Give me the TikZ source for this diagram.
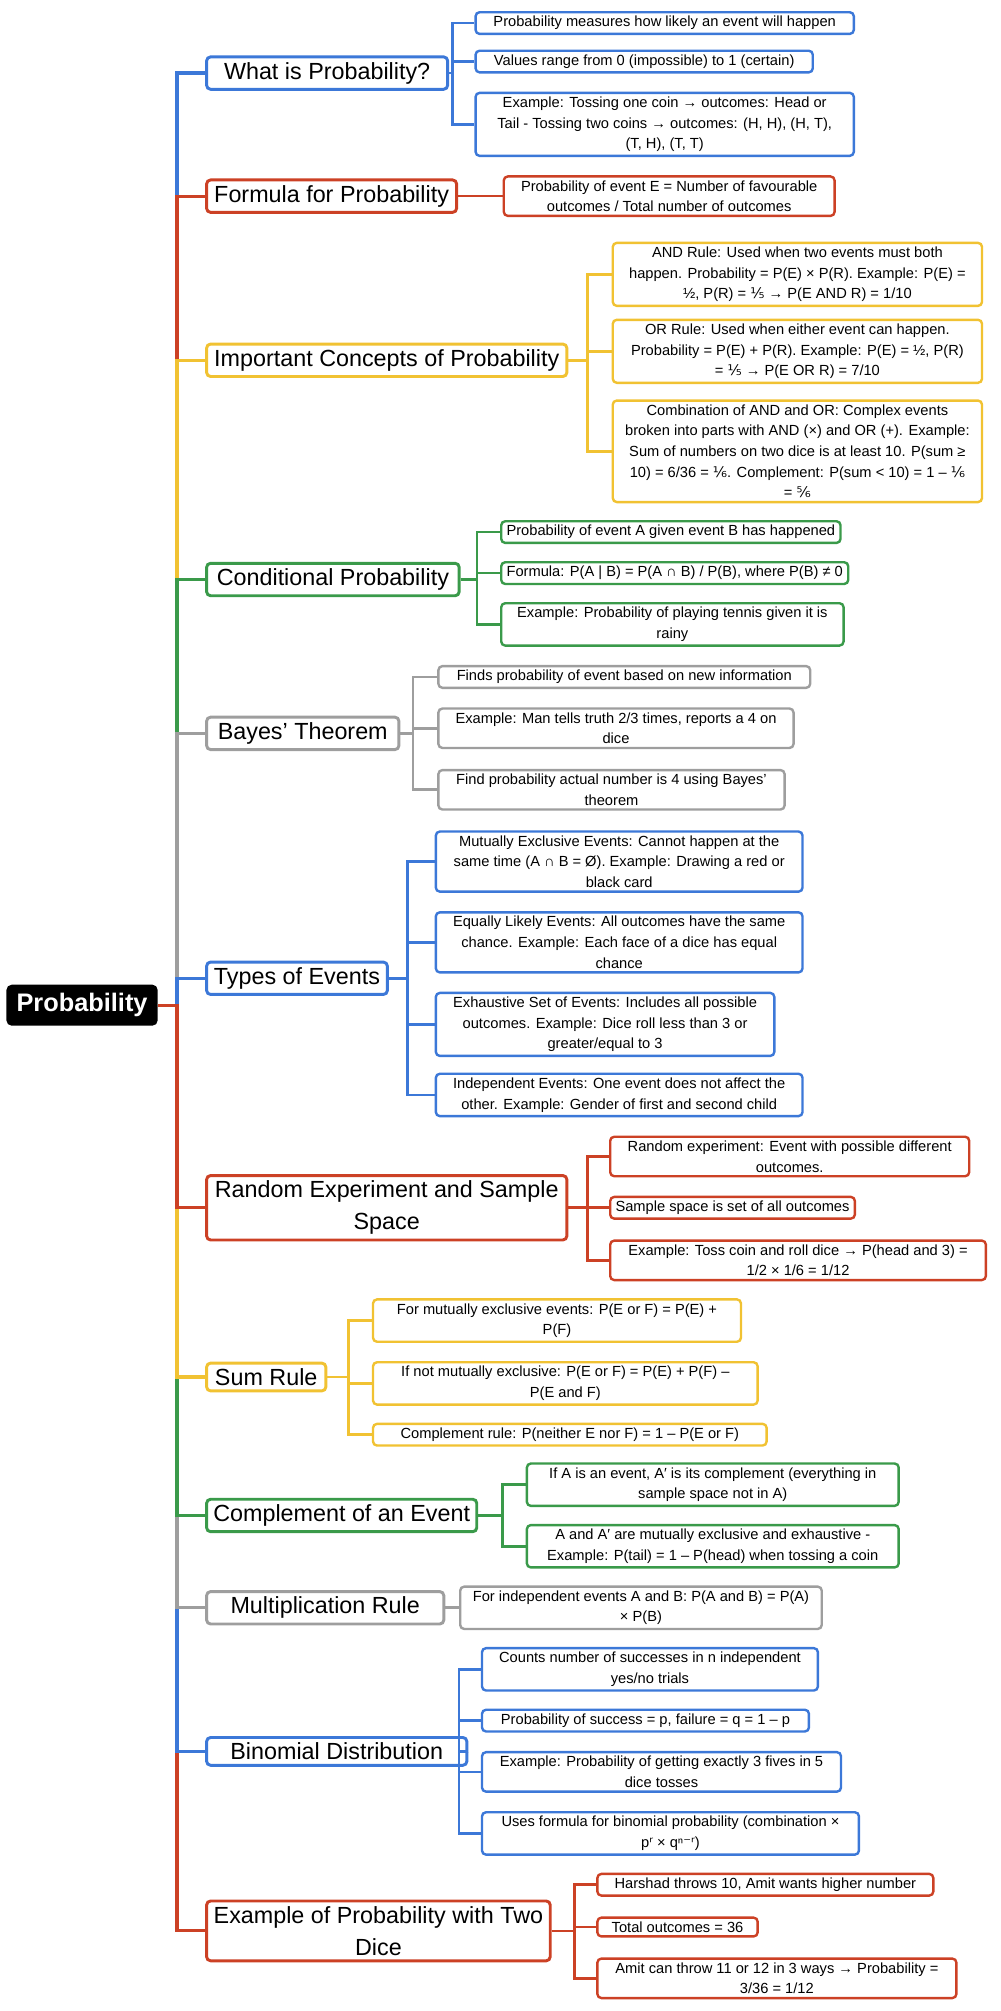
\documentclass[tikz,border=0pt]{standalone}
\usepackage{fontspec}
\setmainfont{Liberation Sans}
\newfontfamily\dvfam{DejaVu Sans}
\newcommand\dvf[1]{{\dvfam #1}}
\definecolor{cb}{HTML}{3C78D8}
\definecolor{cr}{HTML}{CC4125}
\definecolor{cy}{HTML}{F1C232}
\definecolor{cg}{HTML}{3A9A4A}
\definecolor{ca}{HTML}{9E9E9E}
\begin{document}
\begin{tikzpicture}[x=0.9615pt,y=-0.9615pt,
  lf/.style={draw=#1,line width=1.8pt,rounded corners=3pt,fill=white,align=center,
    font=\fontsize{11}{15.5}\selectfont,inner xsep=4pt,inner ysep=3pt,anchor=west},
  br/.style={draw=#1,line width=2.2pt,rounded corners=3pt,fill=white,align=center,
    font=\fontsize{17.5}{24}\selectfont,inner xsep=5pt,inner ysep=4pt,anchor=west},
  cn/.style={draw=#1,line width=2.4pt},
  lc/.style={draw=#1,line width=2pt}]
\useasboundingbox (0,0) rectangle (780,1568.5);
\node[fill=black,text=white,rounded corners=4pt,font=\fontsize{19}{22}\selectfont\bfseries,minimum width=118*0.9615pt,minimum height=32*0.9615pt] (root) at (64,784) {Probability};
% branches
\node[br=cb,minimum width=188*0.9615pt] (b1) at (160,57) {What is Probability?};
\node[br=cr,minimum width=195*0.9615pt] (b2) at (160,153) {Formula for Probability};
\node[br=cy,minimum width=281*0.9615pt] (b3) at (160,281) {Important Concepts of Probability};
\node[br=cg,minimum width=197*0.9615pt] (b4) at (160,452) {Conditional Probability};
\node[br=ca,minimum width=150*0.9615pt] (b5) at (160,572) {Bayes' Theorem};
\node[br=cb,minimum width=141*0.9615pt] (b6) at (160,763) {Types of Events};
\node[br=cr,minimum width=281*0.9615pt] (b7) at (160,942) {Random Experiment and Sample\\Space};
\node[br=cy,minimum width=93*0.9615pt] (b8) at (160,1074) {Sum Rule};
\node[br=cg,minimum width=206*0.9615pt] (b9) at (160,1182) {Complement of an Event};
\node[br=ca,minimum width=185*0.9615pt] (b10) at (160,1254) {Multiplication Rule};
\node[br=cb,minimum width=203*0.9615pt] (b11) at (160,1366) {Binomial Distribution};
\node[br=cr,minimum width=268*0.9615pt] (b12) at (160,1506) {Example of Probability with Two\\Dice};
% trunk (outermost first)
\coordinate (T) at (138,0);
\foreach \b/\c in {b1/cb,b12/cr,b2/cr,b11/cb,b3/cy,b10/ca,b4/cg,b9/cg,b5/ca,b8/cy,b6/cb,b7/cr}
  \draw[cn=\c] (root.east) -- (root.east -| T) |- (\b.west);
% leaves
\node[lf=cb,minimum width=295*0.9615pt] (l1a) at (370,18) {Probability measures how likely an event will happen};
\node[lf=cb,minimum width=263*0.9615pt] (l1b) at (370,48) {Values range from 0 (impossible) to 1 (certain)};
\node[lf=cb,minimum width=295*0.9615pt] (l1c) at (370,97) {Example: Tossing one coin → outcomes: Head or\\Tail - Tossing two coins → outcomes: (H, H), (H, T),\\(T, H), (T, T)};
\node[lf=cr,minimum width=258*0.9615pt] (l2a) at (392,153) {Probability of event E = Number of favourable\\outcomes / Total number of outcomes};
\node[lf=cy,minimum width=288*0.9615pt] (l3a) at (477,214) {AND Rule: Used when two events must both\\happen. Probability = P(E) × P(R). Example: P(E) =\\½, P(R) = \dvf{⅕} → P(E AND R) = 1/10};
\node[lf=cy,minimum width=288*0.9615pt] (l3b) at (477,274) {OR Rule: Used when either event can happen.\\Probability = P(E) + P(R). Example: P(E) = ½, P(R)\\= \dvf{⅕} → P(E OR R) = 7/10};
\node[lf=cy,minimum width=288*0.9615pt] (l3c) at (477,352) {Combination of AND and OR: Complex events\\broken into parts with AND (×) and OR (+). Example:\\Sum of numbers on two dice is at least 10. P(sum ≥\\10) = 6/36 = \dvf{⅙}. Complement: P(sum < 10) = 1 – \dvf{⅙}\\= \dvf{⅚}};
\node[lf=cg,minimum width=260*0.9615pt] (l4a) at (390,415) {Probability of event A given event B has happened};
\node[lf=cg,minimum width=262*0.9615pt] (l4b) at (390,447) {Formula: P(A | B) = P(A ∩ B) / P(B), where P(B) ≠ 0};
\node[lf=cg,minimum width=267*0.9615pt] (l4c) at (390,487) {Example: Probability of playing tennis given it is\\rainy};
\node[lf=ca,minimum width=290*0.9615pt] (l5a) at (341,528) {Finds probability of event based on new information};
\node[lf=ca,minimum width=277*0.9615pt] (l5b) at (341,568) {Example: Man tells truth 2/3 times, reports a 4 on\\dice};
\node[lf=ca,minimum width=270*0.9615pt] (l5c) at (341,616) {Find probability actual number is 4 using Bayes'\\theorem};
\node[lf=cb,minimum width=286*0.9615pt] (l6a) at (339,672) {Mutually Exclusive Events: Cannot happen at the\\same time (A ∩ B = Ø). Example: Drawing a red or\\black card};
\node[lf=cb,minimum width=286*0.9615pt] (l6b) at (339,735) {Equally Likely Events: All outcomes have the same\\chance. Example: Each face of a dice has equal\\chance};
\node[lf=cb,minimum width=264*0.9615pt] (l6c) at (339,799) {Exhaustive Set of Events: Includes all possible\\outcomes. Example: Dice roll less than 3 or\\greater/equal to 3};
\node[lf=cb,minimum width=286*0.9615pt] (l6d) at (339,854) {Independent Events: One event does not affect the\\other. Example: Gender of first and second child};
\node[lf=cr,minimum width=280*0.9615pt] (l7a) at (475,902) {Random experiment: Event with possible different\\outcomes.};
\node[lf=cr,minimum width=177*0.9615pt] (l7b) at (475,942) {Sample space is set of all outcomes};
\node[lf=cr,minimum width=293*0.9615pt] (l7c) at (475,983) {Example: Toss coin and roll dice → P(head and 3) =\\1/2 × 1/6 = 1/12};
\node[lf=cy,minimum width=287*0.9615pt] (l8a) at (290,1030) {For mutually exclusive events: P(E or F) = P(E) +\\P(F)};
\node[lf=cy,minimum width=300*0.9615pt] (l8b) at (290,1079) {If not mutually exclusive: P(E or F) = P(E) + P(F) –\\P(E and F)};
\node[lf=cy,minimum width=307*0.9615pt] (l8c) at (290,1119) {Complement rule: P(neither E nor F) = 1 – P(E or F)};
\node[lf=cg,minimum width=290*0.9615pt] (l9a) at (410,1158) {If A is an event, A′ is its complement (everything in\\sample space not in A)};
\node[lf=cg,minimum width=290*0.9615pt] (l9b) at (410,1206) {A and A′ are mutually exclusive and exhaustive -\\Example: P(tail) = 1 – P(head) when tossing a coin};
\node[lf=ca,minimum width=282*0.9615pt] (l10a) at (358,1254) {For independent events A and B: P(A and B) = P(A)\\× P(B)};
\node[lf=cb,minimum width=262*0.9615pt] (l11a) at (375,1302) {Counts number of successes in n independent\\yes/no trials};
\node[lf=cb,minimum width=255*0.9615pt] (l11b) at (375,1342) {Probability of success = p, failure = q = 1 – p};
\node[lf=cb,minimum width=280*0.9615pt] (l11c) at (375,1382) {Example: Probability of getting exactly 3 fives in 5\\dice tosses};
\node[lf=cb,minimum width=294*0.9615pt] (l11d) at (375,1430) {Uses formula for binomial probability (combination ×\\p\dvf{ʳ} × qⁿ\dvf{⁻ʳ})};
\node[lf=cr,minimum width=262*0.9615pt] (l12a) at (465,1470) {Harshad throws 10, Amit wants higher number};
\node[lf=cr,minimum width=125*0.9615pt] (l12b) at (465,1503) {Total outcomes = 36};
\node[lf=cr,minimum width=280*0.9615pt] (l12c) at (465,1543) {Amit can throw 11 or 12 in 3 ways → Probability =\\3/36 = 1/12};
% sub-trunk x positions
\coordinate (s1) at (353,0); \coordinate (s3) at (458,0);
\coordinate (s4) at (372,0); \coordinate (s5) at (322,0); \coordinate (s6) at (318,0);
\coordinate (s7) at (458,0); \coordinate (s8) at (272,0); \coordinate (s9) at (392,0);
\coordinate (s11) at (358,0); \coordinate (s12) at (448,0);
\foreach \l in {l1a,l1b,l1c} \draw[lc=cb] (b1.east) -- (b1.east -| s1) |- (\l.west);
\draw[lc=cr] (b2.east) -- (l2a.west);
\foreach \l in {l3a,l3b,l3c} \draw[lc=cy] (b3.east) -- (b3.east -| s3) |- (\l.west);
\foreach \l in {l4a,l4b,l4c} \draw[lc=cg] (b4.east) -- (b4.east -| s4) |- (\l.west);
\foreach \l in {l5a,l5b,l5c} \draw[lc=ca] (b5.east) -- (b5.east -| s5) |- (\l.west);
\foreach \l in {l6a,l6b,l6c,l6d} \draw[lc=cb] (b6.east) -- (b6.east -| s6) |- (\l.west);
\foreach \l in {l7a,l7b,l7c} \draw[lc=cr] (b7.east) -- (b7.east -| s7) |- (\l.west);
\foreach \l in {l8a,l8b,l8c} \draw[lc=cy] (b8.east) -- (b8.east -| s8) |- (\l.west);
\foreach \l in {l9a,l9b} \draw[lc=cg] (b9.east) -- (b9.east -| s9) |- (\l.west);
\draw[lc=ca] (b10.east) -- (l10a.west);
\foreach \l in {l11a,l11b,l11c,l11d} \draw[lc=cb] (b11.east) -- (b11.east -| s11) |- (\l.west);
\foreach \l in {l12a,l12b,l12c} \draw[lc=cr] (b12.east) -- (b12.east -| s12) |- (\l.west);
\end{tikzpicture}
\end{document}
